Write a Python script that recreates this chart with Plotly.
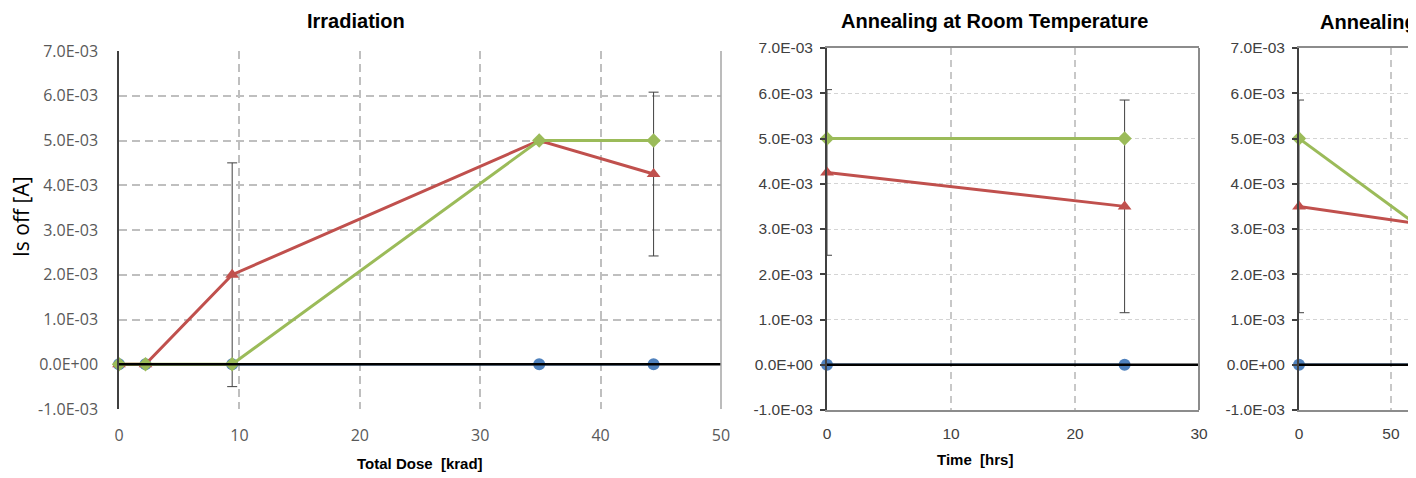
import plotly.graph_objects as go

# ---------------- data ----------------
# Panel 1: Irradiation
DOSE = [0, 2.2, 9.4, 34.9, 44.4]
IRR_BLUE = [0.0, 0.0, 0.0, 0.0, 0.0]
IRR_RED = [0.0, 0.0, 2.0e-3, 5.0e-3, 4.25e-3]
IRR_RED_ERR = [0.0, 0.0, 2.5e-3, 0.0, 1.83e-3]
IRR_GREEN = [0.0, 0.0, 0.0, 5.0e-3, 5.0e-3]

# Panel 2: Annealing at Room Temperature
RT_TIME = [0, 24]
RT_BLUE = [0.0, 0.0]
RT_RED = [4.25e-3, 3.5e-3]
RT_RED_ERR = [1.83e-3, 2.35e-3]
RT_GREEN = [5.0e-3, 5.0e-3]

# Panel 3: second annealing step (cut off at right edge)
HT_TIME = [0, 168]
HT_BLUE = [0.0, 0.0]
HT_RED = [3.5e-3, 2.5e-3]
HT_RED_ERR = [2.35e-3, 0.0]
HT_GREEN = [5.0e-3, 0.0]

Y_TICKS = [-1e-3, 0, 1e-3, 2e-3, 3e-3, 4e-3, 5e-3, 6e-3, 7e-3]
Y_TICK_LABELS = ["-1.0E-03", "0.0E+00", "1.0E-03", "2.0E-03", "3.0E-03",
                 "4.0E-03", "5.0E-03", "6.0E-03", "7.0E-03"]

TITLES = ["Irradiation", "Annealing at Room Temperature", "Annealing at High Temperature"]
X_TITLES = ["Total Dose&nbsp; [krad]", "Time&nbsp; [hrs]"]
Y_TITLE = "Is off [A]"

# ---------------- style ----------------
BLUE = "#4F81BD"
RED = "#C0504D"
GREEN = "#9BBB59"
ERRC = "#404040"
OFF = 8                      # page body margin
W, H = 1416 - OFF, 478 - OFF


def px_x(p):
    return (p - OFF) / W


def px_y(p):
    return 1 - (p - OFF) / H


fig = go.Figure()


def add_panel(n, x, blue, red, rerr, green, lw=3):
    xa = "x" if n == 1 else f"x{n}"
    ya = "y" if n == 1 else f"y{n}"
    fig.add_trace(go.Scatter(x=x, y=blue, xaxis=xa, yaxis=ya, mode="lines+markers",
                             line=dict(color=BLUE, width=2.5),
                             marker=dict(symbol="circle", size=12, color=BLUE),
                             showlegend=False, cliponaxis=False))
    fig.add_trace(go.Scatter(x=x, y=red, xaxis=xa, yaxis=ya, mode="lines+markers",
                             line=dict(color=RED, width=lw),
                             marker=dict(symbol="triangle-up", size=12, color=RED),
                             error_y=dict(type="data", array=rerr, visible=True,
                                          color=ERRC, thickness=1, width=5),
                             showlegend=False, cliponaxis=False))
    fig.add_trace(go.Scatter(x=x, y=green, xaxis=xa, yaxis=ya, mode="lines+markers",
                             line=dict(color=GREEN, width=lw),
                             marker=dict(symbol="diamond", size=11, color=GREEN),
                             showlegend=False, cliponaxis=False))


add_panel(1, DOSE, IRR_BLUE, IRR_RED, IRR_RED_ERR, IRR_GREEN)
add_panel(2, RT_TIME, RT_BLUE, RT_RED, RT_RED_ERR, RT_GREEN)
add_panel(3, HT_TIME, HT_BLUE, HT_RED, HT_RED_ERR, HT_GREEN)

tick_font1 = dict(family="Open Sans", size=16, color="#595959")
tick_font2 = dict(family="Liberation Sans, Arial", size=15.5, color="#404040")

layout = dict(
    template="none",
    width=W, height=H, margin=dict(l=0, r=0, t=0, b=0, pad=0), autosize=False,
    paper_bgcolor="white", plot_bgcolor="white", showlegend=False,
    # panel 1
    xaxis=dict(domain=[px_x(119), px_x(721)], range=[0, 50], dtick=10, tick0=0,
               showgrid=True, gridcolor="#BFBFBF", gridwidth=1.5, griddash="8px,5px",
               zeroline=False, showline=False, ticks="", tickfont=tick_font1,
               anchor="y", ticklabelstandoff=15, automargin=False),
    yaxis=dict(domain=[px_y(409), px_y(51)], range=[-1e-3, 7e-3],
               tickvals=Y_TICKS, ticktext=Y_TICK_LABELS,
               showgrid=True, gridcolor="#BFBFBF", gridwidth=1.5, griddash="8px,5px",
               zeroline=False, showline=True, linecolor="#404040", linewidth=1.5,
               ticks="", tickfont=tick_font1, anchor="x", ticklabelstandoff=16,
               automargin=False),
    # panel 2
    xaxis2=dict(domain=[px_x(827), px_x(1199)], range=[0, 30], dtick=10, tick0=0,
                showgrid=True, gridcolor="#C8C8C8", gridwidth=1.5, griddash="7px,5px",
                zeroline=False, showline=True, mirror=True, linecolor="#8C8C8C",
                linewidth=2, ticks="", tickfont=tick_font2, anchor="y2",
                ticklabelstandoff=8, automargin=False),
    yaxis2=dict(domain=[px_y(410), px_y(48)], range=[-1e-3, 7e-3],
                tickvals=Y_TICKS, ticktext=Y_TICK_LABELS,
                showgrid=True, gridcolor="#D4D4D4", gridwidth=1, griddash="4px,3px",
                zeroline=False, showline=True, linecolor="#404040", linewidth=2,
                ticks="outside", ticklen=5, tickcolor="#404040", tickwidth=1.5,
                tickfont=tick_font2, anchor="x2", ticklabelstandoff=4, automargin=False),
    # panel 3
    xaxis3=dict(domain=[px_x(1299), 1.0], range=[0, 63.6], dtick=50, tick0=0,
                showgrid=True, gridcolor="#C8C8C8", gridwidth=1.5, griddash="7px,5px",
                zeroline=False, showline=True, mirror=True, linecolor="#8C8C8C",
                linewidth=2, ticks="", tickfont=tick_font2, anchor="y3",
                ticklabelstandoff=8, automargin=False),
    yaxis3=dict(domain=[px_y(410), px_y(48)], range=[-1e-3, 7e-3],
                tickvals=Y_TICKS, ticktext=Y_TICK_LABELS,
                showgrid=True, gridcolor="#D4D4D4", gridwidth=1, griddash="4px,3px",
                zeroline=False, showline=True, linecolor="#404040", linewidth=2,
                ticks="outside", ticklen=5, tickcolor="#404040", tickwidth=1.5,
                tickfont=tick_font2, anchor="x3", ticklabelstandoff=4, automargin=False),
)
fig.update_layout(**layout)

shapes = []
# zero reference lines (Excel's horizontal axis crossing at 0), drawn above traces
for n in (1, 2, 3):
    xa = "x" if n == 1 else f"x{n}"
    ya = "y" if n == 1 else f"y{n}"
    shapes.append(dict(type="line", xref=f"{xa} domain", yref=ya, x0=0, x1=1,
                       y0=0, y1=0, line=dict(color="black", width=2.5), layer="above"))
# right border of panel 1 and panel 2
shapes.append(dict(type="line", xref="x domain", yref="y domain", x0=1, x1=1, y0=0, y1=1,
                   line=dict(color="#A6A6A6", width=1.5), layer="above"))
shapes.append(dict(type="line", xref="x2 domain", yref="y2 domain", x0=1, x1=1, y0=0, y1=1,
                   line=dict(color="#8C8C8C", width=2), layer="above"))
fig.update_layout(shapes=shapes)

title_font = dict(family="Liberation Sans, Arial", size=20, color="black")
annots = [
    dict(text=f"<b>{TITLES[0]}</b>", x=px_x(356), y=px_y(21), xref="paper", yref="paper",
         xanchor="center", yanchor="middle", showarrow=False, font=title_font),
    dict(text=f"<b>{TITLES[1]}</b>", x=px_x(994), y=px_y(8), xref="paper", yref="paper",
         xanchor="center", yanchor="top", showarrow=False, font=title_font),
    dict(text=f"<b>{TITLES[2]}</b>", x=px_x(1318), y=px_y(22), xref="paper", yref="paper",
         xanchor="left", yanchor="middle", showarrow=False, font=title_font),
    dict(text=f"<b>{X_TITLES[0]}</b>", x=px_x(420), y=px_y(463), xref="paper", yref="paper",
         xanchor="center", yanchor="middle", showarrow=False,
         font=dict(family="Liberation Sans, Arial", size=15, color="black")),
    dict(text=f"<b>{X_TITLES[1]}</b>", x=px_x(975), y=px_y(459), xref="paper", yref="paper",
         xanchor="center", yanchor="middle", showarrow=False,
         font=dict(family="Liberation Sans, Arial", size=15, color="black")),
    dict(text=Y_TITLE, x=px_x(21), y=px_y(217), xref="paper", yref="paper",
         xanchor="center", yanchor="middle", showarrow=False, textangle=-90,
         font=dict(family="Open Sans", size=21, color="black")),
]
fig.update_layout(annotations=annots)

fig.write_html("out.html")
